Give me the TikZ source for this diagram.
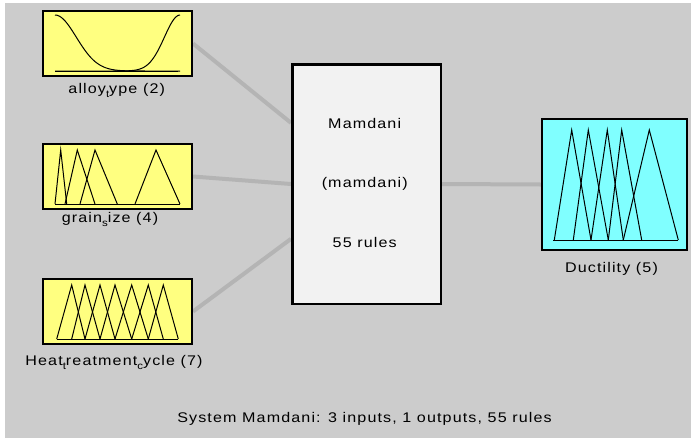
\documentclass[tikz,border=0pt]{standalone}
\usepackage{fontspec}
\setmainfont{Liberation Sans}
\newfontfamily\guifont[FakeStretch=1.15,LetterSpace=8]{Liberation Sans}
\usetikzlibrary{backgrounds}

\definecolor{guibg}{HTML}{CCCCCC}
\definecolor{mfyellow}{HTML}{FFFF80}
\definecolor{mfcyan}{HTML}{80FFFF}
\definecolor{fisgray}{HTML}{F2F2F2}
\definecolor{wiregray}{HTML}{B4B4B4}

% subscripted letter as the variable names print it
\newcommand\lowsub[1]{\raisebox{-4.5pt}{\fontsize{10}{10}\selectfont #1}}

\begin{document}
\begin{tikzpicture}[x=1pt,y=-1pt,font=\guifont\fontsize{14}{16}\selectfont,
  inbox/.style={draw,line width=2pt,fill=mfyellow,minimum width=149pt,minimum height=65pt,inner sep=0pt},
  outbox/.style={draw,line width=2pt,fill=mfcyan,minimum width=145pt,minimum height=131pt,inner sep=0pt},
  fisbox/.style={draw,line width=2.5pt,fill=fisgray,minimum width=148.5pt,minimum height=239.5pt,inner sep=0pt},
  wire/.style={draw=wiregray,line width=4pt},
  mf/.style={line width=1pt,line join=miter},
  lbl/.style={anchor=base,inner sep=0pt}]
\useasboundingbox (0,0) rectangle (691,440);

% variables and the rule block
\node[inbox] (alloy) at (117.5,43.5) {};
\node[inbox] (grain) at (117.5,176.5) {};
\node[inbox] (heat) at (117.5,311.5) {};
\node[fisbox] (rules) at (366.5,184) {};
\node[outbox] (ductility) at (614.5,184.5) {};

\begin{scope}[on background layer]
\fill[white] (0,0) rectangle (691,440);
\fill[guibg] (5,3) rectangle (691,438);
\draw[wire] (alloy.east) -- (rules.141);
\draw[wire] (grain.east) -- (rules.west);
\draw[wire] (heat.east) -- (rules.216);
\draw[wire] (rules.east) -- (ductility.west);
\end{scope}

% alloy type: two gaussians
\draw[mf] (55,71) -- (178,71);
\draw[mf] plot[domain=55:180,samples=60,smooth] (\x,{71-56*exp(-((\x-55)^2)/900)});
\draw[mf] plot[domain=55:180,samples=60,smooth] (\x,{71-56*exp(-((\x-180)^2)/482)});

% grain size
\draw[mf] (55,204) -- (180,204);
\foreach \a/\b/\c in %
{55/60.7/66.7,65/77.3/95,80/95/117.3,135/156/180} {
   \draw[mf] (\a,204) -- (\b,150) -- (\c,204);
}

% heat treatment cycle
\draw[mf] (56.7,339) -- (178.3,339);
\foreach \a/\b/\c in %
{56.7/71.7/85,71.7/85/100,85/100/115,100/115/131.7,115/131.7/148.3,131.7/148.3/163.3,148.3/163.3/178.3} {
   \draw[mf] (\a,339) -- (\b,285) -- (\c,339);
}

% ductility
\draw[mf] (553,240) -- (678.3,240);
\foreach \a/\b/\c in %
{554.3/571.7/591,573.3/588.3/608.3,591/607.3/623.3,608.3/621.7/641.7,623.3/649.3/678.3} {
   \draw[mf] (\a,240) -- (\b,130) -- (\c,240);
}

\node[lbl] (alloylbl) at (116.7,93) {alloy\lowsub{t}ype (2)};
\node[lbl] (grainlbl) at (110,222) {grain\lowsub{s}ize (4)};
\node[lbl] (heatlbl) at (114,365) {Heat\lowsub{t}reatment\lowsub{c}ycle (7)};
\node[lbl] (ductilitylbl) at (611.5,272) {Ductility (5)};

\node[lbl] (fisname) at (364.7,128.3) {Mamdani};
\node[lbl] (fistype) at (364.7,187.3) {(mamdani)};
\node[lbl] (fisrules) at (364.7,247.3) {55 rules};

\node[lbl] (summary) at (364.5,422) {System Mamdani: 3 inputs, 1 outputs, 55 rules};
\end{tikzpicture}
\end{document}
